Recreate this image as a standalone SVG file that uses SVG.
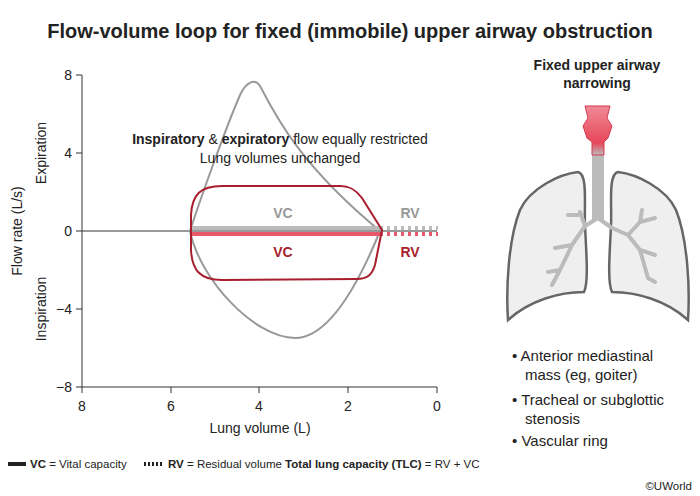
<svg xmlns="http://www.w3.org/2000/svg" width="700" height="496" viewBox="0 0 700 496">
<defs>
<style>
text{font-family:"Liberation Sans",Arial,sans-serif;fill:#222}
.t{font-size:14px}
.b{font-weight:bold}
.ax{stroke:#333;stroke-width:1;fill:none}
.lung{fill:#efefef;stroke:#666;stroke-width:2.5}
.br{stroke:#bbb;stroke-width:4;fill:none;stroke-linecap:round;stroke-linejoin:round}
</style>
<linearGradient id="lg" x1="0" y1="0" x2="0" y2="1">
<stop offset="0" stop-color="#f08a96"/><stop offset="0.75" stop-color="#e8475a"/><stop offset="1" stop-color="#bbb"/>
</linearGradient>
</defs>
<rect width="700" height="496" fill="#fff"/>
<text x="350" y="38" text-anchor="middle" class="b" style="font-size:20px">Flow-volume loop for fixed (immobile) upper airway obstruction</text>

<g id="axes">
<line class="ax" x1="82" y1="75" x2="82" y2="387"/>
<line class="ax" x1="82" y1="387" x2="437" y2="387"/>
<line class="ax" x1="82" y1="231" x2="437" y2="231"/>
<g class="ax"><line x1="76" y1="75" x2="82" y2="75"/><line x1="76" y1="153" x2="82" y2="153"/><line x1="76" y1="231" x2="82" y2="231"/><line x1="76" y1="309" x2="82" y2="309"/><line x1="76" y1="387" x2="82" y2="387"/>
<line x1="82" y1="387" x2="82" y2="393"/><line x1="171" y1="387" x2="171" y2="393"/><line x1="259" y1="387" x2="259" y2="393"/><line x1="348" y1="387" x2="348" y2="393"/><line x1="437" y1="387" x2="437" y2="393"/></g>
<g class="t" text-anchor="end"><text x="72" y="80">8</text><text x="72" y="158">4</text><text x="72" y="236">0</text><text x="72" y="314">−4</text><text x="72" y="392">−8</text></g>
<g class="t" text-anchor="middle"><text x="82" y="411">8</text><text x="171" y="411">6</text><text x="259" y="411">4</text><text x="348" y="411">2</text><text x="437" y="411">0</text></g>
<text x="260" y="433" class="t" text-anchor="middle">Lung volume (L)</text>
<text transform="translate(22,231) rotate(-90)" class="t" text-anchor="middle">Flow rate (L/s)</text>
<text transform="translate(46,153) rotate(-90)" class="t" text-anchor="middle">Expiration</text>
<text transform="translate(46,309) rotate(-90)" class="t" text-anchor="middle">Inspiration</text>
</g>

<g id="loops">
<path d="M190 231 C200 200 225 130 240 95 C246 82 255 78 260 86 C275 115 300 165 380 231 C360 280 330 338 295 338 C255 338 200 280 190 231 Z" fill="none" stroke="#999" stroke-width="2"/>
<line x1="190" y1="228" x2="380" y2="228" stroke="#bbb" stroke-width="4"/>
<line x1="380" y1="228" x2="438" y2="228" stroke="#bbb" stroke-width="4" stroke-dasharray="3 4"/>
<line x1="190" y1="234" x2="380" y2="234" stroke="#e8576a" stroke-width="4"/>
<line x1="380" y1="234" x2="438" y2="234" stroke="#e8576a" stroke-width="4" stroke-dasharray="3 4"/>
<path d="M222 186 L340 186 C350 186 356 190 362 198 L382 230 L375 265 C372 275 367 279 357 279 L222 280 C200 280 192 270 191 250 L191 215 C192 195 200 186 222 186 Z" fill="none" stroke="#a81e2d" stroke-width="2"/>
<text x="283" y="218" class="t b" text-anchor="middle" style="fill:#999">VC</text>
<text x="410" y="218" class="t b" text-anchor="middle" style="fill:#999">RV</text>
<text x="283" y="257" class="t b" text-anchor="middle" style="fill:#a81e2d">VC</text>
<text x="410" y="257" class="t b" text-anchor="middle" style="fill:#a81e2d">RV</text>
<text x="280" y="144" class="t" text-anchor="middle"><tspan class="b">Inspiratory</tspan> &amp; <tspan class="b">expiratory</tspan> flow equally restricted</text>
<text x="280" y="163" class="t" text-anchor="middle">Lung volumes unchanged</text>
</g>

<g id="lungs">
<text x="597" y="70" class="t b" text-anchor="middle">Fixed upper airway</text>
<text x="597" y="88" class="t b" text-anchor="middle">narrowing</text>
<path class="lung" d="M578 172 C560 174 530 188 520 210 C508 240 506 290 508 320 C530 300 560 292 584 292 C589 282 586 250 585 225 C584 205 588 174 578 172 Z"/>
<path class="lung" d="M618 172 C636 174 666 188 676 210 C688 240 690 290 688 320 C666 300 636 292 612 292 C607 282 610 250 611 225 C612 205 608 174 618 172 Z"/>
<rect x="592" y="150" width="12" height="70" fill="#bbb"/>
<path class="br" d="M598 218 L585 226 L572 245 L560 270 L552 285 M572 245 L555 248 M560 270 L548 272 M585 226 L580 212 M578 215 L568 215 M598 218 L612 228 L628 235 L640 250 L648 278 M628 235 L640 222 L642 210 M640 222 L655 218 M640 250 L655 255 M648 278 L655 282"/>
<path d="M585 106 L610 106 L607 118 L612 126 L608 138 L604 142 L604 155 L592 155 L592 142 L587 138 L583 126 L588 118 Z" fill="url(#lg)" stroke="#d23b4f" stroke-width="1"/>
<g style="font-size:15px"><text x="512" y="361">• Anterior mediastinal</text><text x="525" y="380">mass (eg, goiter)</text>
<text x="512" y="405">• Tracheal or subglottic</text><text x="525" y="424">stenosis</text>
<text x="512" y="446">• Vascular ring</text></g>
</g>

<g id="legend" style="font-size:11.5px">
<line x1="8" y1="464" x2="26" y2="464" stroke="#222" stroke-width="4"/>
<text x="30" y="468"><tspan class="b">VC</tspan> = Vital capacity</text>
<line x1="144" y1="464" x2="164" y2="464" stroke="#222" stroke-width="4" stroke-dasharray="2 2"/>
<text x="168" y="468"><tspan class="b">RV</tspan> = Residual volume  <tspan class="b">Total lung capacity (TLC)</tspan> = RV + VC</text>
<text x="692" y="490" text-anchor="end">©UWorld</text>
</g>
</svg>
